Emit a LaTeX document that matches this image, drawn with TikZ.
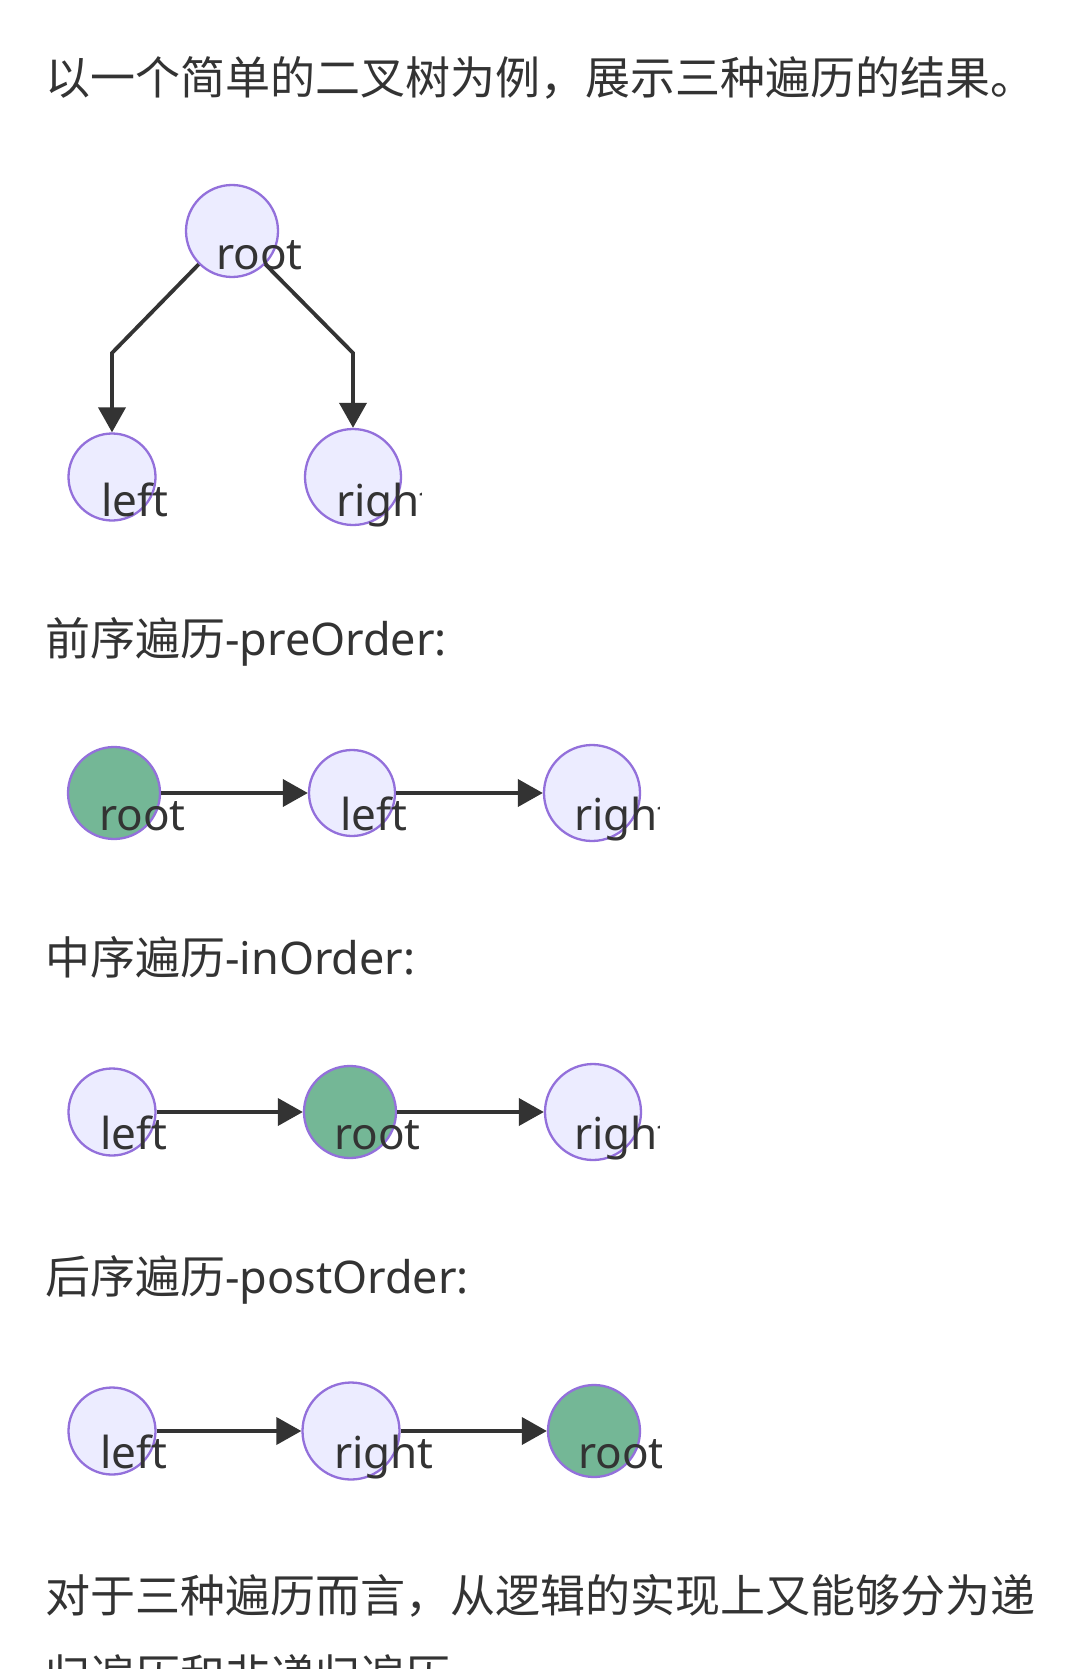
\documentclass[tikz,border=0pt]{standalone}
\usepackage{fontspec}
\setmainfont{Noto Sans}
\newfontfamily\cjk{Noto Sans CJK SC}
\usetikzlibrary{arrows.meta}
\definecolor{txt}{HTML}{333333}
\definecolor{vfill}{HTML}{ECECFF}
\definecolor{vline}{HTML}{9370DB}
\definecolor{vgreen}{HTML}{74B796}
\tikzset{
  vert/.style={circle, draw=vline, fill=vfill, line width=2.3pt, inner sep=0pt},
  vgr/.style={vert, fill=vgreen},
  lbl/.style={anchor=base west, inner sep=0pt, text=txt, font=\fontsize{44}{52}\selectfont},
  para/.style={anchor=base west, inner sep=0pt, text=txt, font=\fontsize{45}{52}\selectfont},
  edge/.style={draw=txt, line width=3.8pt, -{Triangle[length=25pt,width=27pt]}}
}
\begin{document}
\begin{tikzpicture}[x=1pt,y=-1pt]
\useasboundingbox[fill=white] (0,0) rectangle (1080,1669);

% title
\node[para] (title) at (45,95) {\cjk 以一个简单的二叉树为例，展示三种遍历的结果。};

% tree
\node[vert, minimum size=92pt] (troot) at (232,231) {};
\node[vert, minimum size=87pt] (tleft) at (112,477) {};
\node[vert, minimum size=96pt] (tright) at (353,477) {};
\coordinate (tbl) at (112,353);
\coordinate (tbr) at (353,353);
\draw[edge] (troot.225) -- (tbl) -- (tleft);
\draw[edge] (troot.315) -- (tbr) -- (tright);
\node[lbl] (trootl) at (216,270) {root};
\node[lbl] (tleftl) at (101,516) {left};
\begin{scope}
\clip (0,0) rectangle (421,1669);
\node[lbl] (trightl) at (336,516) {right};
\end{scope}

% preOrder
\node[para] (hpre) at (45,655) {{\cjk 前序遍历}-preOrder:};
\node[vgr, minimum size=92pt] (proot) at (114,793) {};
\node[vert, minimum size=86pt] (pleft) at (352,793) {};
\node[vert, minimum size=96pt] (pright) at (592,793) {};
\draw[edge] (proot) -- (pleft);
\draw[edge] (pleft) -- (pright);
\node[lbl] (prootl) at (99,830) {root};
\node[lbl] (pleftl) at (340,830) {left};
\begin{scope}
\clip (0,0) rectangle (659,1669);
\node[lbl] (prightl) at (574,830) {right};
\end{scope}

% inOrder
\node[para] (hin) at (45,974) {{\cjk 中序遍历}-inOrder:};
\node[vert, minimum size=87pt] (ileft) at (112,1112) {};
\node[vgr, minimum size=92pt] (iroot) at (350,1112) {};
\node[vert, minimum size=96pt] (iright) at (593,1112) {};
\draw[edge] (ileft) -- (iroot);
\draw[edge] (iroot) -- (iright);
\node[lbl] (ileftl) at (100,1149) {left};
\node[lbl] (irootl) at (334,1149) {root};
\begin{scope}
\clip (0,0) rectangle (659,1669);
\node[lbl] (irightl) at (574,1149) {right};
\end{scope}

% postOrder
\node[para] (hpost) at (45,1293) {{\cjk 后序遍历}-postOrder:};
\node[vert, minimum size=87pt] (qleft) at (112,1431) {};
\node[vert, minimum size=97pt] (qright) at (351,1431) {};
\node[vgr, minimum size=92pt] (qroot) at (594,1431) {};
\draw[edge] (qleft) -- (qright);
\draw[edge] (qright) -- (qroot);
\node[lbl] (qleftl) at (100,1468) {left};
\node[lbl] (qrightl) at (334,1468) {right};
\begin{scope}
\clip (0,0) rectangle (661,1669);
\node[lbl] (qrootl) at (578,1468) {root};
\end{scope}

% closing paragraph
\node[para] (end1) at (45,1612) {\cjk 对于三种遍历而言，从逻辑的实现上又能够分为递};
\node[para] (end2) at (45,1692) {\cjk 归遍历和非递归遍历。};
\end{tikzpicture}
\end{document}
